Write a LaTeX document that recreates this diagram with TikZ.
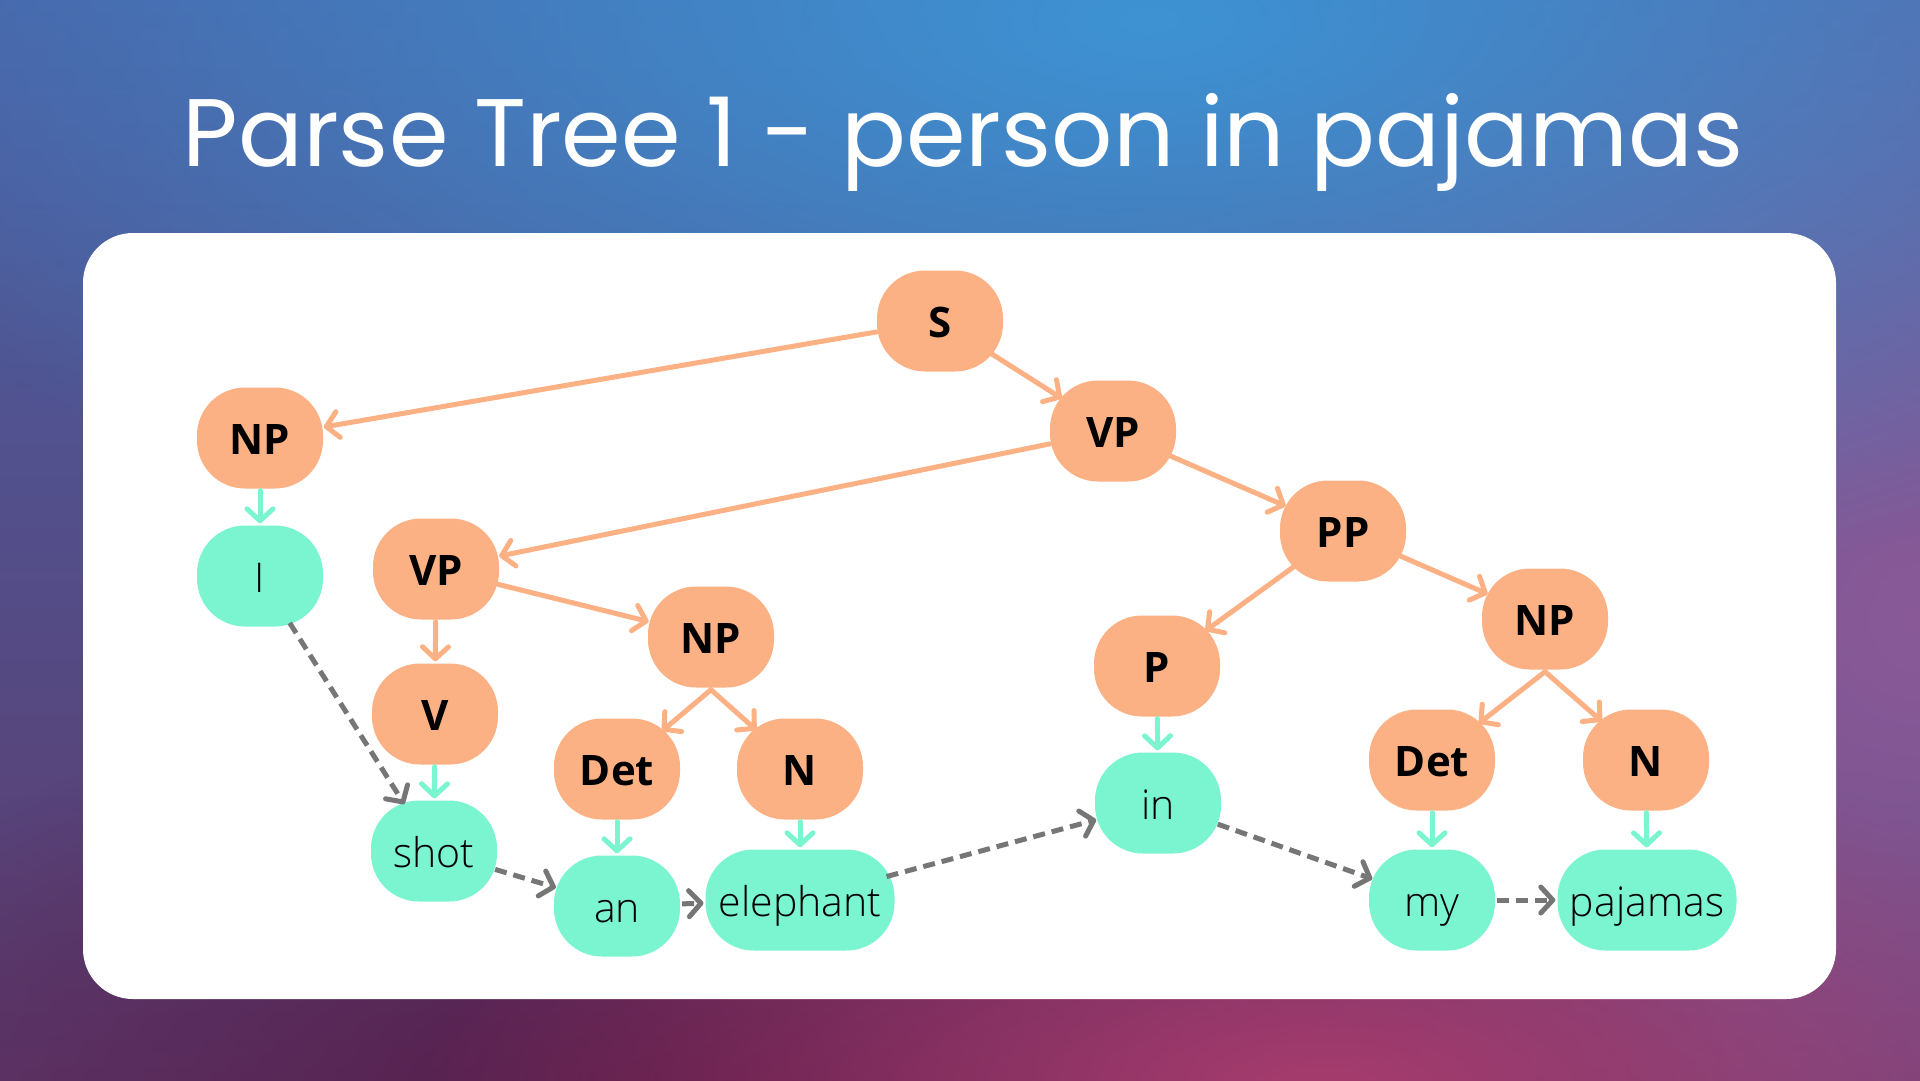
\documentclass[tikz,border=0pt]{standalone}
\usepackage{fontspec}
\setmainfont{Open Sans}
\newfontfamily\titlefont{Poppins}
\newfontfamily\lightfont{Open Sans Light}
\usetikzlibrary{arrows.meta,shapes.geometric,fadings}
\definecolor{orangec}{HTML}{FBB183}
\definecolor{tealc}{HTML}{7BF4D0}
\definecolor{grayc}{HTML}{767676}
\definecolor{bgtop}{HTML}{4A62A6}
\definecolor{bgbot}{HTML}{5C3A6C}
\definecolor{blobblue}{HTML}{3E93D3}
\definecolor{blobdark}{HTML}{561A46}
\definecolor{blobpink}{HTML}{A83C6E}
\definecolor{blobviolet}{HTML}{8A5A98}
\tikzfading[name=blob, inner color=transparent!0, outer color=transparent!100]
\tikzset{
  anchornode/.style={ellipse, inner sep=0pt, minimum height=105pt, text=black},
  catfill/.style={fill=orangec, rounded corners=48pt},
  wordfill/.style={fill=tealc, rounded corners=48pt},
  catnode/.style={anchornode, minimum width=130pt, font=\fontsize{42}{42}\selectfont\bfseries, text height=33pt, text depth=0pt},
  wordnode/.style={anchornode, font=\lightfont\fontsize{41}{41}\selectfont, text height=32pt, text depth=0pt},
  edgebase/.style={line width=5pt, line cap=round, -{Straight Barb[length=12pt,width=26pt,round]}},
  oedge/.style={edgebase, draw=orangec},
  tedge/.style={edgebase, draw=tealc},
  dedge/.style={edgebase, draw=grayc, line cap=butt, dash pattern=on 12pt off 7pt},
}
% #1 name, #2 x, #3 y, #4 text
\newcommand\catbox[4]{%
  \fill[catfill] ({#2-63},{#3-50.5}) rectangle ({#2+63},{#3+50.5});
  \node[catnode] (#1) at (#2,#3) {\makebox[0pt][c]{#4}};}
% #1 name, #2 x, #3 y, #4 width, #5 text
\newcommand\wordbox[5]{%
  \fill[wordfill] ({#2-#4/2},{#3-50.5}) rectangle ({#2+#4/2},{#3+50.5});
  \node[wordnode, minimum width={#4+4pt}] (#1) at (#2,#3) {\makebox[0pt][c]{#5}};}
\begin{document}
\begin{tikzpicture}[x=1pt,y=-1pt]
\useasboundingbox (0,0) rectangle (1920,1080);
% background
\shade[top color=bgtop, bottom color=bgbot] (0,0) rectangle (1920,1080);
\fill[blobviolet, path fading=blob] (1920,620) ellipse [x radius=900, y radius=900];
\fill[blobblue, path fading=blob] (1150,20) ellipse [x radius=1400, y radius=620];
\fill[blobdark, path fading=blob] (740,1090) ellipse [x radius=1000, y radius=420];
\fill[blobpink, path fading=blob] (1320,1090) ellipse [x radius=900, y radius=360];
% title
\node[font=\titlefont\fontsize{96}{96}\selectfont, text=white, anchor=base] (title) at (963,166) {Parse Tree 1 - person in pajamas};
% panel
\fill[white, rounded corners=50pt] (83,233) rectangle (1836,999);
% category nodes
\catbox{S}{940}{321}{S}
\catbox{NPa}{260}{438}{NP}
\catbox{VPa}{1113}{431}{VP}
\catbox{VPb}{436}{569}{VP}
\catbox{PP}{1343}{531}{PP}
\catbox{NPb}{711}{637}{NP}
\catbox{V}{435}{714}{V}
\catbox{P}{1157}{666}{P}
\catbox{NPc}{1545}{619}{NP}
\catbox{Deta}{617}{769}{Det}
\catbox{Na}{800}{769}{N}
\catbox{Detb}{1432}{760}{Det}
\catbox{Nb}{1646}{760}{N}
% word nodes
\wordbox{I}{260}{576}{126}{I}
\wordbox{shot}{434}{851}{126}{shot}
\wordbox{an}{617}{906}{126}{an}
\wordbox{elephant}{800}{900}{189}{elephant}
\wordbox{in}{1158}{803}{126}{in}
\wordbox{my}{1432}{900}{126}{my}
\wordbox{pajamas}{1647}{900}{179}{pajamas}
% tree edges
\draw[oedge] (S) -- (NPa);
\draw[oedge] (S) -- (VPa);
\draw[oedge] (VPa) -- (VPb);
\draw[oedge] (VPa) -- (PP);
\draw[oedge] (VPb) -- (V);
\draw[oedge] (VPb) -- (NPb);
\draw[oedge] (NPb.south) -- (Deta);
\draw[oedge] (NPb.south) -- (Na);
\draw[oedge] (PP) -- (P);
\draw[oedge] (PP) -- (NPc);
\draw[oedge] (NPc.south) -- (Detb);
\draw[oedge] (NPc.south) -- (Nb);
% lexical edges
\draw[tedge] (NPa) -- (I);
\draw[tedge] (V) -- (shot);
\draw[tedge] (Deta) -- (an);
\draw[tedge] (Na) -- (elephant);
\draw[tedge] (P) -- (in);
\draw[tedge] (Detb) -- (my);
\draw[tedge] (Nb) -- (pajamas);
% word order
\draw[dedge] (I) -- (shot);
\draw[dedge] (shot) -- (an);
\draw[dedge] (an) -- (elephant);
\draw[dedge] (elephant) -- (in);
\draw[dedge] (in) -- (my);
\draw[dedge] (my) -- (pajamas);
\end{tikzpicture}
\end{document}
